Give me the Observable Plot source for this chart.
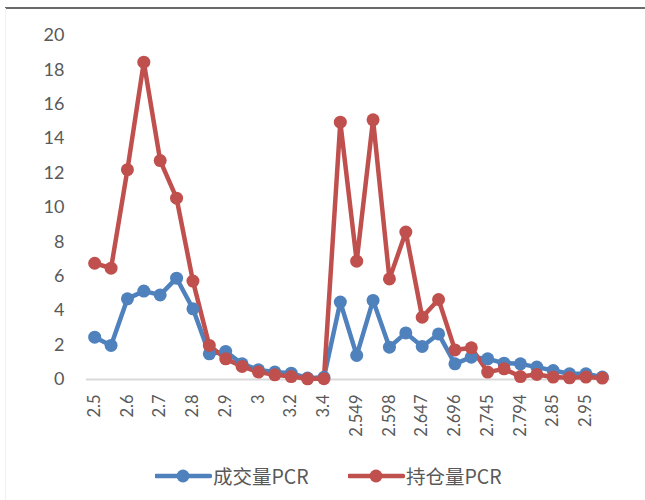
<!DOCTYPE html>
<html>
<head>
<meta charset="utf-8">
<script src="https://cdn.jsdelivr.net/npm/d3@7"></script>
<script src="https://cdn.jsdelivr.net/npm/@observablehq/plot@0.6"></script>
<style>
  html, body { margin: 0; padding: 0; background: #fff; }
  #wrap { position: relative; width: 645px; height: 500px; overflow: hidden; font-family: Lato, "Noto Sans", sans-serif; }
  #topline { position: absolute; left: 5px; top: 7px; width: 640px; height: 0; border-top: 2px solid #6a6a6a; }
  #leftline { position: absolute; left: 5px; top: 8px; width: 0; height: 492px; border-left: 1px solid #f0f0f0; }
  #chart { position: absolute; left: 0; top: 0; }
  #legend { position: absolute; left: 0; top: 450px; width: 645px; height: 50px; }
  .lg { position: absolute; top: 11px; display: flex; align-items: center; font-size: 19.5px; color: #595959; font-family: "Noto Sans CJK SC", Lato, sans-serif; }
</style>
</head>
<body>
<div id="wrap">
  <div id="topline"></div>
  <div id="leftline"></div>
  <div id="chart"></div>
  <div id="legend"></div>
</div>
<script>
const strikes = ["2.5","2.55","2.6","2.65","2.7","2.75","2.8","2.85","2.9","2.95","3","3.1","3.2","3.3","3.4",
  "2.5","2.549","2.55","2.598","2.6","2.647","2.65","2.696","2.7","2.745","2.75","2.794","2.8","2.85","2.9","2.95","3"];
const volumePCR = [2.46,1.98,4.69,5.14,4.92,5.89,4.11,1.49,1.63,0.91,0.56,0.43,0.37,0.08,0.13,
  4.5,1.4,4.6,1.88,2.71,1.92,2.65,0.91,1.3,1.2,0.95,0.91,0.72,0.52,0.33,0.33,0.14];
const oiPCR = [6.76,6.47,12.2,18.45,12.73,10.54,5.72,1.98,1.2,0.76,0.43,0.27,0.17,0.04,0.05,
  14.96,6.88,15.1,5.85,8.57,3.62,4.65,1.72,1.84,0.43,0.62,0.17,0.29,0.14,0.1,0.14,0.08];
const yTicks = [0,2,4,6,8,10,12,14,16,18,20];
const seriesNames = ["成交量PCR", "持仓量PCR"];
const colors = ["#4f81bd", "#c0504d"];

const idx = d3.range(strikes.length);
const rows = [
  ...idx.map(i => ({i, v: volumePCR[i], s: seriesNames[0]})),
  ...idx.map(i => ({i, v: oiPCR[i], s: seriesNames[1]}))
];

const plot = Plot.plot({
  width: 645,
  height: 450,
  marginTop: 35,
  marginBottom: 71,
  marginLeft: 86,
  marginRight: 35,
  style: { fontFamily: "Lato, 'Noto Sans', sans-serif", color: "#595959", background: "transparent" },
  x: { type: "point", domain: idx, padding: 0.5, round: false, label: null },
  y: { domain: [0, 20], label: null },
  color: { domain: seriesNames, range: colors },
  marks: [
    Plot.ruleY([0], { stroke: "#d9d9d9", strokeWidth: 2 }),
    Plot.axisY({ ticks: yTicks, tickSize: 0, tickPadding: 22, fontSize: 18, fill: "#595959", label: null }),
    Plot.axisX({ ticks: idx.filter(i => i % 2 === 0), tickFormat: i => strikes[i], tickRotate: -90,
      tickSize: 0, tickPadding: 15, fontSize: 16.5, fill: "#595959", label: null }),
    Plot.line(rows, { x: "i", y: "v", z: "s", stroke: "s", strokeWidth: 4.5 }),
    Plot.dot(rows, { x: "i", y: "v", fill: "s", r: 6.5, stroke: "none" })
  ]
});
document.getElementById("chart").appendChild(plot);

// legend
const legend = document.getElementById("legend");
const lgX = [155, 348];
seriesNames.forEach((name, k) => {
  const item = document.createElement("div");
  item.className = "lg";
  item.style.left = lgX[k] + "px";
  item.innerHTML = `<svg width="57" height="14" style="margin-right:1px"><line x1="1" y1="7" x2="55" y2="7" stroke="${colors[k]}" stroke-width="4.5" stroke-linecap="round"/><circle cx="28" cy="7" r="6.5" fill="${colors[k]}"/></svg><span>${name}</span>`;
  legend.appendChild(item);
});
</script>
</body>
</html>
